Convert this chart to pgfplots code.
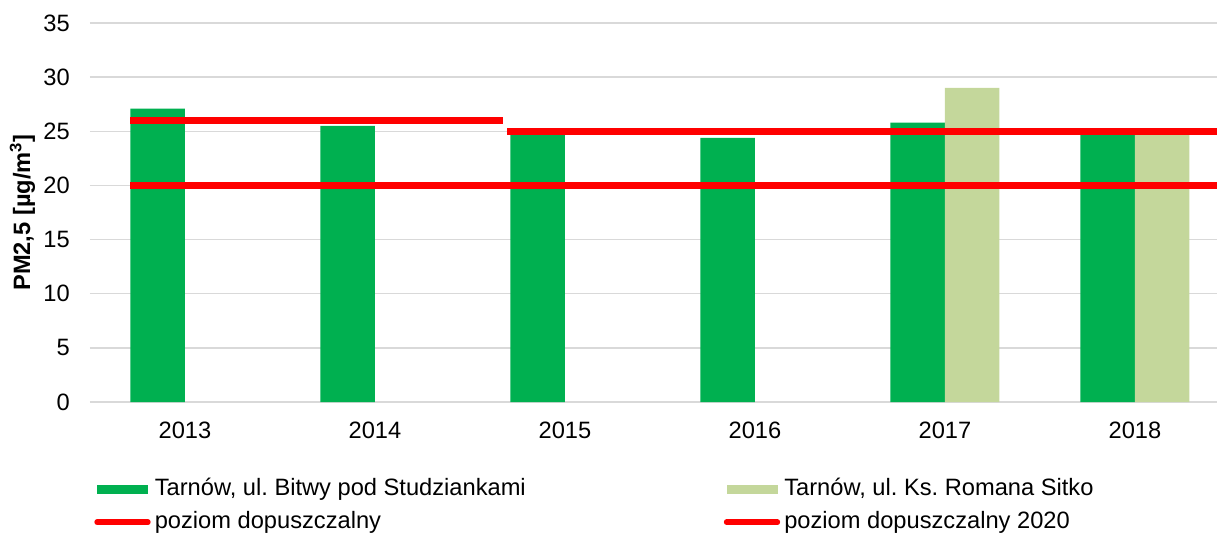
\documentclass[border=0pt]{standalone}
\usepackage{pgfplots}
\pgfplotsset{compat=1.18}
\usepackage{fontspec}
\setmainfont{Liberation Sans}
\definecolor{dg}{HTML}{00B050}
\definecolor{lg}{HTML}{C4D79B}
\definecolor{gridc}{HTML}{D9D9D9}
\begin{document}
\frenchspacing
\fontsize{14.2}{17}\selectfont
\begin{tikzpicture}
\path[use as bounding box] (-54pt,-78pt) rectangle (676.2pt,241.2pt);
\begin{axis}[
  at={(0,0)}, anchor=south west,
  width=676.2pt, height=227.4pt, scale only axis,
  xmin=-0.5, xmax=5.432, ymin=0, ymax=35,
  ytick={0,5,...,35}, xtick={0,1,2,3,4,5},
  xticklabels={2013,2014,2015,2016,2017,2018},
  /pgf/number format/assume math mode=true,
  axis line style={draw=none},
  major tick length=0pt,
  ymajorgrids, grid style={gridc, line width=0.9pt},
  tick label style={font=\fontsize{14.2}{17}\selectfont},
  xticklabel style={inner sep=0pt, anchor=north, yshift=-12pt},
  yticklabel style={inner sep=0pt, anchor=east, xshift=-12pt},
  ylabel={\bfseries PM2,5 [µg/m\textsuperscript{3}]},
  ylabel style={at={(axis description cs:-0.0599,0.5)}, anchor=center, inner sep=0pt, font=\fontsize{14.2}{17}\selectfont},
  legend columns=2,
  legend cell align=left,
  legend style={at={(axis description cs:0.00355,-0.1992)}, anchor=north west,
    draw=none, fill=none, inner sep=0pt, column sep=2.5pt, row sep=6.3pt,
    font=\fontsize{14.2}{17}\selectfont,
    nodes={inner sep=0pt, text height=10.5pt, text depth=3pt}},
]
\addplot[ybar, bar width=32.7pt, bar shift=-16.35pt, fill=dg, draw=none,
  legend image code/.code={\fill[dg] (0pt,-2.7pt) rectangle (30.6pt,2.7pt);}]
  coordinates {(0,27.1) (1,25.5) (2,25.0) (3,24.4) (4,25.8) (5,25.0)};
\addlegendentry{\makebox[338.9pt][l]{Tarnów, ul. Bitwy pod Studziankami}}
\addplot[ybar, bar width=32.7pt, bar shift=16.35pt, fill=lg, draw=none,
  legend image code/.code={\fill[lg] (0pt,-2.7pt) rectangle (30.6pt,2.7pt);}]
  coordinates {(4,29.0) (5,25.0)};
\addlegendentry{Tarnów, ul. Ks. Romana Sitko}
\addplot[red, line width=4pt, unbounded coords=jump,
  legend image code/.code={\draw[red, line width=3.2pt, line cap=round] (0pt,0pt) -- (30.6pt,0pt);}]
  coordinates {(-0.289,26) (1.674,26) (1.685,nan) (1.695,25) (5.6,25)};
\addlegendentry{poziom dopuszczalny}
\addplot[red, line width=4pt,
  legend image code/.code={\draw[red, line width=3.2pt, line cap=round] (0pt,0pt) -- (30.6pt,0pt);}]
  coordinates {(-0.289,20) (5.6,20)};
\addlegendentry{poziom dopuszczalny 2020}
\end{axis}
\end{tikzpicture}
\end{document}
